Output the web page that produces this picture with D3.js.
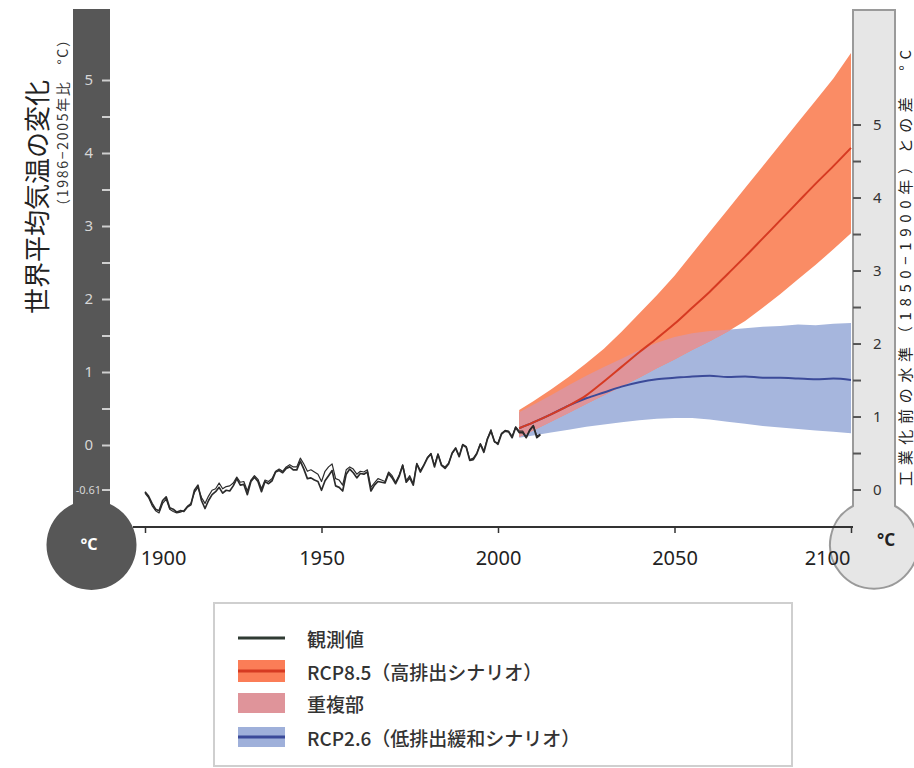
<!DOCTYPE html>
<html><head><meta charset="utf-8">
<script src="https://cdn.jsdelivr.net/npm/d3@7"></script>
<style>
html,body{margin:0;padding:0;background:#fff;}
svg{display:block;font-family:"Noto Sans CJK JP","Noto Sans",sans-serif;}
</style></head>
<body>
<svg id="c" width="914" height="768"></svg>
<script>
// ---------------- DATA ----------------
const obsStartYear = 1900;
const observed1 = [-0.64,-0.70,-0.80,-0.88,-0.90,-0.76,-0.71,-0.86,-0.88,-0.92,
 -0.90,-0.91,-0.85,-0.82,-0.62,-0.55,-0.76,-0.87,-0.76,-0.68,
 -0.64,-0.58,-0.66,-0.62,-0.63,-0.56,-0.46,-0.55,-0.54,-0.68,
 -0.50,-0.44,-0.50,-0.64,-0.50,-0.53,-0.49,-0.37,-0.35,-0.38,
 -0.32,-0.30,-0.34,-0.34,-0.22,-0.33,-0.46,-0.45,-0.48,-0.50,
 -0.62,-0.49,-0.42,-0.35,-0.56,-0.58,-0.63,-0.40,-0.33,-0.38,
 -0.45,-0.39,-0.40,-0.37,-0.63,-0.55,-0.50,-0.51,-0.52,-0.39,
 -0.45,-0.53,-0.43,-0.28,-0.51,-0.45,-0.55,-0.26,-0.37,-0.28,
 -0.18,-0.12,-0.30,-0.13,-0.28,-0.32,-0.26,-0.11,-0.04,-0.16,
 0.00,-0.03,-0.21,-0.20,-0.12,0.01,-0.10,0.08,0.19,0.05,
 0.01,0.15,0.19,0.18,0.10,0.24,0.17,0.17,0.10,0.20,
 0.26,0.10,0.14];
const observed2 = [-0.66,-0.72,-0.83,-0.90,-0.93,-0.80,-0.74,-0.88,-0.91,-0.93,
 -0.92,-0.90,-0.84,-0.80,-0.65,-0.58,-0.72,-0.80,-0.70,-0.62,
 -0.60,-0.52,-0.60,-0.57,-0.56,-0.52,-0.44,-0.51,-0.50,-0.63,
 -0.48,-0.42,-0.47,-0.60,-0.48,-0.50,-0.46,-0.36,-0.33,-0.36,
 -0.30,-0.27,-0.30,-0.30,-0.18,-0.26,-0.36,-0.34,-0.37,-0.40,
 -0.50,-0.36,-0.30,-0.26,-0.46,-0.48,-0.55,-0.34,-0.30,-0.33,
 -0.40,-0.36,-0.37,-0.34,-0.58,-0.52,-0.46,-0.48,-0.50,-0.37,
 -0.42,-0.51,-0.41,-0.27,-0.49,-0.42,-0.53,-0.25,-0.35,-0.27,
 -0.17,-0.12,-0.28,-0.12,-0.27,-0.30,-0.25,-0.12,-0.05,-0.15,
 0.01,-0.02,-0.20,-0.18,-0.11,0.02,-0.08,0.09,0.21,0.04,
 0.03,0.16,0.20,0.19,0.12,0.25,0.19,0.19,0.11,0.21,
 0.27,0.12,0.15];

const projYears = [2006,2010,2015,2020,2025,2030,2035,2040,2045,2050,2055,2060,2065,2070,2075,2080,2085,2090,2095,2100];
const rcp85Mean  = [0.23,0.31,0.42,0.54,0.68,0.87,1.07,1.27,1.46,1.66,1.88,2.10,2.34,2.58,2.83,3.08,3.33,3.58,3.82,4.07];
const rcp85Upper = [0.48,0.60,0.76,0.93,1.12,1.32,1.55,1.80,2.05,2.32,2.62,2.92,3.22,3.52,3.82,4.12,4.42,4.72,5.02,5.37];
const rcp85Lower = [0.11,0.20,0.32,0.44,0.56,0.68,0.80,0.92,1.05,1.17,1.30,1.42,1.55,1.70,1.88,2.07,2.27,2.47,2.68,2.90];
const rcp26Mean  = [0.23,0.31,0.42,0.54,0.64,0.72,0.80,0.86,0.90,0.92,0.94,0.95,0.93,0.94,0.92,0.92,0.91,0.90,0.91,0.89];
const rcp26Upper = [0.45,0.55,0.68,0.82,0.95,1.07,1.18,1.30,1.40,1.48,1.53,1.56,1.58,1.60,1.62,1.63,1.65,1.64,1.66,1.67];
const rcp26Lower = [0.10,0.13,0.17,0.21,0.25,0.28,0.31,0.34,0.36,0.37,0.37,0.35,0.32,0.29,0.26,0.24,0.22,0.20,0.18,0.16];

const xTicks = [1900,1950,2000,2050,2100];
const leftTicks = [0,1,2,3,4,5];
const leftMinor = [0.5,1.5,2.5,3.5,4.5];
const baseOffset = 0.61;           // 1986-2005 vs 1850-1900
const rightTicks = [0,1,2,3,4,5];
const rightMinor = [0.5,1.5,2.5,3.5,4.5];

const titleLeft = "世界平均気温の変化";
const subLeft = "（1986−2005年比　°C）";
const titleRight = "工業化前の水準（1850−1900年）との差　°C";
const legendItems = ["観測値","RCP8.5（高排出シナリオ）","重複部","RCP2.6（低排出緩和シナリオ）"];

// ---------------- DRAW ----------------
const svg = d3.select("#c");
const x = d3.scaleLinear().domain([1900,2100]).range([145,851]);
const y = d3.scaleLinear().domain([0,5]).range([445,80]);
const yR = d3.scaleLinear().domain([0,5]).range([y(-baseOffset), y(5-baseOffset)]);

const C = {orange:"#fa8c65", blue:"#a6b6dd", pink:"#df949a", red:"#d63a22", navy:"#3b4a99", obs:"#2b2b2b"};

const proj = projYears.map((yr,i)=>({yr, m85:rcp85Mean[i], u85:rcp85Upper[i], l85:rcp85Lower[i], m26:rcp26Mean[i], u26:rcp26Upper[i], l26:rcp26Lower[i]}));
const area85 = d3.area().x(d=>x(d.yr)).y0(d=>y(d.l85)).y1(d=>y(d.u85));
const area26 = d3.area().x(d=>x(d.yr)).y0(d=>y(d.l26)).y1(d=>y(d.u26));

svg.append("defs").append("clipPath").attr("id","clip26")
  .append("path").attr("d", area26(proj));

svg.append("path").attr("d", area26(proj)).attr("fill", C.blue);
svg.append("path").attr("d", area85(proj)).attr("fill", C.orange);
svg.append("path").attr("d", area85(proj)).attr("fill", C.pink).attr("clip-path","url(#clip26)");

svg.append("path").datum(proj)
  .attr("d", d3.line().curve(d3.curveMonotoneX).x(d=>x(d.yr)).y(d=>y(d.m26)))
  .attr("fill","none").attr("stroke",C.navy).attr("stroke-width",2);
svg.append("path").datum(proj)
  .attr("d", d3.line().curve(d3.curveMonotoneX).x(d=>x(d.yr)).y(d=>y(d.m85)))
  .attr("fill","none").attr("stroke",C.red).attr("stroke-width",2);

const obsLine = d3.line().x((d,i)=>x(obsStartYear+i)).y(d=>y(d));
svg.append("path").datum(observed2).attr("d", obsLine)
  .attr("fill","none").attr("stroke",C.obs).attr("stroke-width",1.2).attr("stroke-linejoin","round");
svg.append("path").datum(observed1).attr("d", obsLine)
  .attr("fill","none").attr("stroke",C.obs).attr("stroke-width",1.7).attr("stroke-linejoin","round");

// left thermometer
svg.append("path").attr("d","M73,9 H110 V504 A45,45 0 1,1 73,504 Z").attr("fill","#575757");
const la = svg.append("g").attr("transform","translate(110,0)")
  .call(d3.axisLeft(y).tickValues(leftTicks).tickSize(8).tickPadding(9).tickFormat(d3.format("d")));
la.select(".domain").remove();
la.selectAll(".tick line").attr("stroke","#cfcfcf").attr("stroke-width",2);
la.selectAll(".tick text").attr("fill","#d6d6d6").attr("font-size",15).attr("font-family","'Noto Sans',sans-serif");
const lm = svg.append("g").attr("transform","translate(110,0)")
  .call(d3.axisLeft(y).tickValues(leftMinor).tickSize(8).tickFormat(""));
lm.select(".domain").remove();
lm.selectAll(".tick line").attr("stroke","#cfcfcf").attr("stroke-width",2);
const l61 = svg.append("g").attr("transform","translate(110,0)")
  .call(d3.axisLeft(y).tickValues([-baseOffset]).tickSize(8).tickPadding(1).tickFormat(d=>"-"+(-d).toFixed(2)));
l61.select(".domain").remove();
l61.selectAll(".tick line").attr("stroke","#cfcfcf").attr("stroke-width",2);
l61.selectAll(".tick text").attr("fill","#d6d6d6").attr("font-size",11).attr("font-family","'Noto Sans',sans-serif");
svg.append("text").attr("x",89).attr("y",544).attr("text-anchor","middle").attr("dominant-baseline","central")
  .attr("fill","#fff").attr("font-size",16).attr("font-weight","bold").attr("font-family","'Noto Sans',sans-serif").text("°C");

// right thermometer
svg.append("path").attr("d","M853,10 H895 V506 A44,44 0 1,1 853,506 Z")
  .attr("fill","#e6e6e6").attr("stroke","#9a9a9a").attr("stroke-width",2);
const ra = svg.append("g").attr("transform","translate(853,0)")
  .call(d3.axisRight(yR).tickValues(rightTicks).tickSize(8).tickPadding(12).tickFormat(d3.format("d")));
ra.select(".domain").remove();
ra.selectAll(".tick line").attr("stroke","#555").attr("stroke-width",2);
ra.selectAll(".tick text").attr("fill","#333").attr("font-size",15).attr("font-family","'Noto Sans',sans-serif");
const rm = svg.append("g").attr("transform","translate(853,0)")
  .call(d3.axisRight(yR).tickValues(rightMinor).tickSize(8).tickFormat(""));
rm.select(".domain").remove();
rm.selectAll(".tick line").attr("stroke","#555").attr("stroke-width",2);
svg.append("text").attr("x",886).attr("y",539).attr("text-anchor","middle").attr("dominant-baseline","central")
  .attr("fill","#222").attr("font-size",17).attr("font-weight","bold").attr("font-family","'Noto Sans',sans-serif").text("°C");

// x axis (drawn over the bulbs)
svg.append("line").attr("x1",133).attr("x2",853).attr("y1",527).attr("y2",527)
  .attr("stroke","#333").attr("stroke-width",2);
const xa = svg.append("g").attr("transform","translate(0,527)")
  .call(d3.axisBottom(x).tickValues(xTicks).tickSize(6).tickPadding(18).tickFormat(d3.format("d")));
xa.select(".domain").remove();
xa.selectAll(".tick line").attr("stroke","#333").attr("stroke-width",1.5);
xa.selectAll(".tick text").attr("font-size",20).attr("fill","#222")
  .attr("font-family","'Noto Sans','Open Sans',sans-serif")
  .attr("dx",(d,i,n)=> i===0 ? 18 : (i===n.length-1 ? -24 : 0));

// titles
svg.append("text").attr("transform","translate(35,197) rotate(-90)").attr("text-anchor","middle")
  .attr("dominant-baseline","central").attr("font-size",26).attr("fill","#222").text(titleLeft);
svg.append("text").attr("transform","translate(62,123) rotate(-90)").attr("text-anchor","middle")
  .attr("dominant-baseline","central").attr("font-size",14).attr("fill","#333")
  .attr("textLength",180).attr("lengthAdjust","spacing").text(subLeft);
svg.append("text").attr("transform","translate(904,268) rotate(-90)").attr("text-anchor","middle")
  .attr("dominant-baseline","central").attr("font-size",15).attr("fill","#222")
  .attr("textLength",436).attr("lengthAdjust","spacing").text(titleRight);

// legend
svg.append("rect").attr("x",214).attr("y",603).attr("width",578).attr("height",163)
  .attr("fill","#fff").attr("stroke","#cfcfcf").attr("stroke-width",2);
const rows = [638,671,703,737];
const lg = svg.append("g");
lg.append("line").attr("x1",238).attr("x2",285).attr("y1",rows[0]).attr("y2",rows[0]).attr("stroke","#2f3b33").attr("stroke-width",3);
lg.append("rect").attr("x",238).attr("y",rows[1]-11).attr("width",47).attr("height",22).attr("fill","#fb7d57");
lg.append("line").attr("x1",238).attr("x2",285).attr("y1",rows[1]).attr("y2",rows[1]).attr("stroke",C.red).attr("stroke-width",3);
lg.append("rect").attr("x",238).attr("y",rows[2]-10).attr("width",47).attr("height",20).attr("fill",C.pink);
lg.append("rect").attr("x",238).attr("y",rows[3]-10).attr("width",47).attr("height",20).attr("fill","#9fb0da");
lg.append("line").attr("x1",238).attr("x2",285).attr("y1",rows[3]).attr("y2",rows[3]).attr("stroke",C.navy).attr("stroke-width",3);
lg.selectAll("text.li").data(legendItems).join("text").attr("class","li")
  .attr("x",307).attr("y",(d,i)=>rows[i]).attr("dominant-baseline","central")
  .attr("font-size",19).attr("fill","#333").attr("font-weight",500).text(d=>d);
</script>
</body></html>
